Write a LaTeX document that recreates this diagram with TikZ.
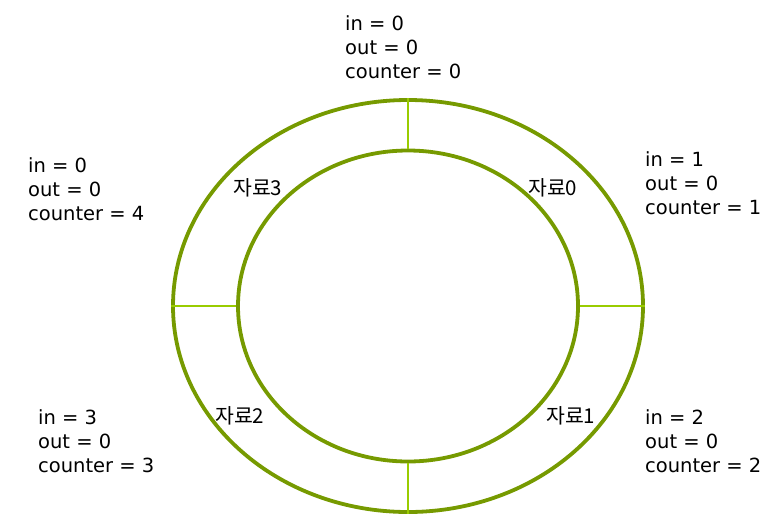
\documentclass[tikz,border=0pt]{standalone}
\usepackage{fontspec}
\setmainfont{DejaVu Sans}
\newfontfamily\krfont{Noto Sans CJK KR}
\usetikzlibrary{shapes.geometric}
\definecolor{ring}{RGB}{118,154,0}
\definecolor{divider}{RGB}{153,204,0}
\tikzset{
  ringline/.style={draw=ring, line width=3.8pt, ellipse, inner sep=0pt},
  divline/.style={draw=divider, line width=1.4pt},
  state/.style={anchor=north west, inner sep=0pt, align=left, font=\fontsize{19.5}{24}\selectfont},
  slot/.style={anchor=base west, inner sep=0pt, font=\fontsize{20.5}{24}\selectfont\krfont}
}
\begin{document}
\begin{tikzpicture}[x=1pt,y=-1pt]
\useasboundingbox (0,0) rectangle (781,528);
\node[ringline, minimum width=470pt, minimum height=412pt] (outer) at (408,306) {};
\node[ringline, minimum width=340pt, minimum height=311pt] (inner) at (408,306) {};
\draw[divline] (outer.north) -- (inner.north);
\draw[divline] (outer.south) -- (inner.south);
\draw[divline] (outer.west) -- (inner.west);
\draw[divline] (outer.east) -- (inner.east);
\node[state] (s0) at (345,15) {in = 0\\out = 0\\counter = 0};
\node[state] (s4) at (28,157) {in = 0\\out = 0\\counter = 4};
\node[state] (s1) at (645,151) {in = 1\\out = 0\\counter = 1};
\node[state] (s2) at (645,409) {in = 2\\out = 0\\counter = 2};
\node[state] (s3) at (38,409) {in = 3\\out = 0\\counter = 3};
\node[slot] (d0) at (528,195) {자료0};
\node[slot] (d3) at (233,195) {자료3};
\node[slot] (d2) at (215,423) {자료2};
\node[slot] (d1) at (546,423) {자료1};
\end{tikzpicture}
\end{document}
